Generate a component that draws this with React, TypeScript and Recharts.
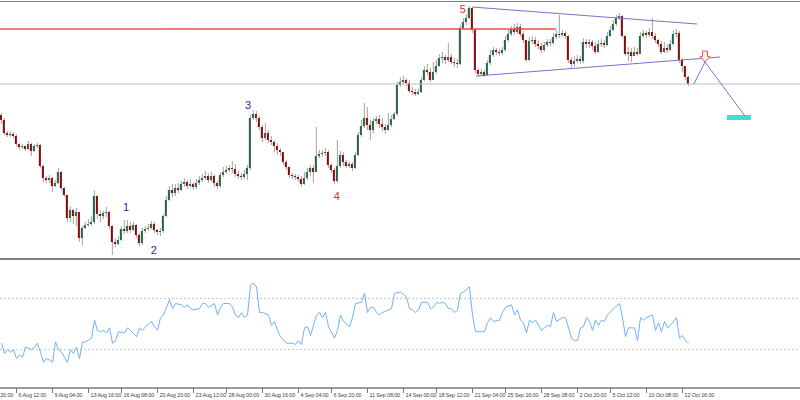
import React from "react";
import {
  ComposedChart,
  LineChart,
  Line,
  Bar,
  XAxis,
  YAxis,
  ReferenceLine,
  ReferenceArea,
  ReferenceDot,
} from "recharts";

// H4 candles, one per bar index; open of each bar = previous close
const firstOpen = 145;
const closes = [
  140, 127, 125, 126, 124, 116, 113, 114, 111, 116,
  109, 114, 115, 94, 82, 80, 82, 74, 77, 88,
  72, 65, 42, 50, 44, 48, 22, 32, 35, 36,
  38, 64, 46, 44, 47, 48, 34, 18, 16, 20,
  31, 29, 34, 30, 35, 25, 17, 29, 31, 32,
  36, 30, 28, 29, 44, 60, 70, 67, 72, 70,
  76, 78, 74, 76, 73, 77, 80, 82, 84, 80,
  84, 77, 74, 85, 88, 90, 92, 91, 86, 84,
  83, 86, 92, 142, 146, 142, 133, 122, 127, 120,
  118, 114, 110, 108, 98, 93, 85, 84, 83, 81,
  76, 82, 88, 92, 88, 104, 106, 107, 108, 95,
  90, 79, 94, 105, 98, 94, 96, 92, 105, 125,
  134, 142, 135, 130, 139, 141, 136, 133, 130, 135,
  141, 146, 175, 178, 180, 177, 169, 168, 166, 168,
  180, 190, 188, 180, 188, 194, 202, 203, 200, 203,
  198, 197, 196, 232, 238, 242, 252, 230, 190, 186,
  188, 185, 197, 205, 210, 208, 207, 210, 220, 226,
  231, 228, 233, 226, 220, 200, 219, 220, 216, 214,
  210, 215, 218, 217, 223, 226, 225, 227, 224, 200,
  196, 199, 201, 199, 218, 216, 218, 214, 208, 216,
  217, 215, 224, 230, 236, 242, 244, 224, 206, 208,
  204, 208, 206, 224, 227, 225, 228, 224, 220, 216,
  208, 212, 210, 216, 226, 227, 200, 194, 183, 176,
];
const highs = [
  147, 142, 129, 129, 128, 126, 117, 116, 114, 119,
  117, 116, 117, 116, 95, 84, 85, 83, 80, 92,
  89, 73, 65, 54, 51, 52, 48, 34, 38, 41,
  44, 70, 65, 50, 49, 53, 49, 35, 22, 24,
  34, 40, 40, 38, 38, 36, 27, 32, 34, 36,
  39, 38, 31, 32, 46, 64, 74, 76, 76, 77,
  79, 82, 80, 81, 78, 81, 84, 86, 89, 87,
  88, 86, 79, 88, 93, 94, 95, 99, 96, 89,
  87, 90, 95, 145, 150, 149, 144, 135, 137, 130,
  124, 120, 117, 112, 102, 100, 94, 87, 86, 85,
  84, 88, 92, 95, 95, 133, 110, 110, 112, 110,
  97, 92, 120, 109, 108, 100, 99, 98, 108, 128,
  140, 157, 153, 140, 142, 144, 145, 142, 136, 147,
  145, 148, 178, 183, 184, 182, 180, 173, 171, 171,
  183, 194, 196, 192, 198, 200, 206, 208, 205, 217,
  206, 202, 201, 235, 242, 246, 254, 252, 232, 192,
  191, 190, 200, 210, 213, 212, 211, 213, 224, 230,
  234, 236, 237, 236, 229, 220, 223, 224, 223, 220,
  217, 218, 221, 221, 227, 230, 245, 230, 229, 225,
  203, 204, 205, 204, 222, 221, 221, 220, 218, 220,
  221, 220, 228, 234, 240, 245, 247, 245, 225, 213,
  212, 213, 212, 228, 230, 229, 232, 242, 227, 221,
  219, 218, 216, 220, 230, 231, 229, 202, 187, 184,
];
const lows = [
  136, 125, 123, 123, 122, 114, 110, 111, 109, 110,
  104, 108, 112, 92, 78, 77, 77, 68, 73, 76,
  70, 63, 38, 38, 36, 34, 18, 15, 31, 33,
  34, 36, 41, 38, 41, 43, 31, 5, 13, 15,
  19, 26, 27, 27, 29, 22, 14, 15, 27, 29,
  31, 27, 25, 24, 27, 43, 59, 63, 64, 67,
  69, 73, 71, 72, 70, 71, 75, 78, 80, 77,
  78, 73, 71, 72, 83, 86, 88, 87, 83, 81,
  80, 81, 80, 90, 140, 138, 130, 118, 120, 117,
  115, 108, 105, 104, 95, 90, 82, 81, 80, 78,
  73, 75, 80, 84, 77, 88, 102, 103, 104, 92,
  87, 76, 77, 92, 94, 92, 92, 89, 91, 104,
  123, 132, 130, 120, 127, 136, 132, 129, 126, 129,
  133, 140, 144, 173, 175, 174, 167, 165, 164, 165,
  167, 179, 185, 178, 180, 186, 193, 197, 196, 198,
  196, 193, 192, 195, 230, 235, 241, 227, 187, 183,
  184, 183, 184, 195, 203, 205, 204, 205, 208, 218,
  224, 225, 226, 223, 217, 198, 199, 216, 213, 211,
  207, 208, 213, 214, 215, 221, 222, 223, 221, 197,
  192, 193, 197, 196, 197, 212, 212, 210, 206, 207,
  213, 212, 214, 223, 229, 234, 240, 222, 204, 199,
  198, 204, 204, 207, 222, 222, 223, 221, 217, 213,
  206, 207, 207, 209, 215, 222, 197, 188, 180, 174,
];

// oscillator (0..100) sampled at bar indices: [bar, value]
const rsiSeries: [number, number][] = [
  [0, 35], [1, 27], [2, 30], [3, 28], [4, 30], [5, 23], [6, 26], [7, 24], [8, 32], [10, 30],
  [11, 32], [12, 35], [13, 28], [14, 20], [15, 23], [16, 22], [17, 20], [18, 36], [19, 30], [20, 28],
  [21, 24], [22, 20], [23, 30], [24, 27], [25, 32], [26, 23], [27, 36], [28, 36], [30, 39], [31, 53],
  [32, 45], [33, 44], [34, 45], [35, 43], [36, 47], [37, 35], [38, 37], [39, 44], [41, 43], [42, 47],
  [43, 45], [45, 40], [46, 47], [47, 45], [48, 48], [50, 52], [51, 48], [52, 45], [53, 55], [54, 57],
  [55, 63], [56, 69], [57, 62], [58, 66], [60, 65], [61, 63], [62, 65], [63, 62], [64, 61], [66, 62],
  [67, 66], [68, 66], [69, 63], [71, 66], [72, 57], [73, 63], [74, 66], [76, 66], [77, 63], [78, 57],
  [79, 55], [80, 59], [81, 55], [82, 57], [83, 80], [84, 82], [85, 79], [86, 59], [87, 59], [89, 57],
  [90, 49], [91, 52], [92, 45], [93, 40], [95, 35], [97, 35], [98, 34], [99, 37], [100, 34], [101, 47],
  [102, 48], [103, 41], [105, 57], [106, 59], [107, 55], [108, 59], [109, 48], [111, 39], [112, 45], [113, 57],
  [114, 52], [116, 48], [117, 55], [118, 66], [120, 67], [121, 74], [122, 59], [123, 63], [124, 63], [125, 59],
  [126, 57], [127, 59], [129, 61], [130, 62], [131, 74], [133, 75], [135, 71], [136, 62], [137, 61], [138, 59],
  [139, 61], [140, 67], [142, 67], [143, 62], [144, 63], [145, 67], [146, 66], [147, 67], [148, 66], [149, 62],
  [150, 62], [151, 59], [152, 61], [153, 74], [154, 75], [155, 77], [156, 79], [157, 57], [158, 44], [160, 44],
  [161, 44], [162, 51], [163, 55], [164, 52], [166, 53], [167, 59], [168, 63], [170, 65], [171, 57], [172, 61],
  [173, 53], [174, 51], [175, 43], [176, 53], [177, 51], [178, 53], [180, 45], [182, 49], [183, 48], [184, 59],
  [185, 52], [187, 55], [188, 55], [190, 39], [191, 37], [192, 37], [193, 47], [194, 48], [195, 55], [196, 52],
  [197, 45], [198, 53], [199, 49], [200, 53], [201, 52], [202, 57], [204, 62], [206, 66], [207, 55], [208, 40],
  [209, 47], [211, 47], [212, 37], [213, 55], [214, 53], [215, 55], [217, 57], [218, 45], [219, 51], [220, 44],
  [221, 52], [222, 47], [223, 49], [225, 55], [226, 39], [227, 41], [228, 37], [229, 35],
];

const tickBars = [-6, 5, 17, 29, 40, 52, 64, 75, 87, 99, 110, 122, 134, 145, 157, 168, 180, 192, 203, 215, 227];
const tickLabels = [
  "2 Aug 20:00", "6 Aug 12:00", "9 Aug 04:00", "13 Aug 16:00", "16 Aug 08:00", "20 Aug 20:00",
  "23 Aug 12:00", "28 Aug 00:00", "30 Aug 16:00", "4 Sep 04:00", "6 Sep 20:00", "11 Sep 08:00",
  "14 Sep 00:00", "18 Sep 12:00", "21 Sep 04:00", "25 Sep 16:00", "28 Sep 08:00", "2 Oct 20:00",
  "5 Oct 12:00", "10 Oct 08:00", "12 Oct 16:00",
];

// wave count labels (bar, price)
const waveNames = ["1", "2", "3", "4", "5"];
const waveBars = [41.5, 50.8, 82.2, 111.8, 153.8];
const wavePrices = [53, 10, 155, 64, 251];

// drawn objects, anchored in (bar, price)
const resistanceLevel = 231;
const resistanceBars = [-13.8, 54.8, 184.8];
const supportLevel = 176;
const triangleTop = [[156.8, 253], [231.8, 236]];
const triangleBottom = [[158.2, 184], [239.5, 203]];
const projection = [[230.8, 176], [234.5, 198], [247.8, 144]];
const targetBars = [241.8, 249.8];
const targetPrices = [140, 145];

const X_DOMAIN: [number, number] = [-41.5 / 3, 798.5 / 3];
const BULL = "#2b6548";
const BEAR = "#8c0a0a";
const WICK = "#a2a2a2";
const BLUE_LINE = "#7474cc";

const candles = closes.map((close, i) => ({
  bar: i,
  open: i === 0 ? firstOpen : closes[i - 1],
  high: highs[i],
  low: lows[i],
  close,
}));

const rsiRows = rsiSeries.map(([bar, rsi]) => ({ bar, rsi }));

function Candle(props: any) {
  const { x, y, width, height, payload } = props;
  const { open, close, high, low } = payload;
  const cx = x + width / 2;
  const span = high - low;
  const at = (v: number) => (span === 0 ? y : y + ((high - v) / span) * height);
  const yO = at(open);
  const yC = at(close);
  const top = Math.min(yO, yC, y);
  const bottom = Math.max(yO, yC, y + height);
  const bodyTop = Math.min(yO, yC);
  const bodyH = Math.max(1, Math.abs(yC - yO));
  return (
    <g>
      <line x1={cx} x2={cx} y1={top} y2={bottom} stroke={WICK} strokeWidth={1} />
      <rect x={cx - 1.5} y={bodyTop} width={2} height={bodyH} fill={close >= open ? BULL : BEAR} />
    </g>
  );
}

function TimeTick(props: any) {
  const { x, y, payload } = props;
  const k = tickBars.indexOf(payload.value);
  return (
    <text
      x={x + 2}
      y={y + 3.5}
      fontSize={5.5}
      letterSpacing={-0.15}
      fontFamily="Liberation Sans, Arial, sans-serif"
      fill="#444"
      textAnchor="start"
    >
      {k >= 0 ? tickLabels[k] : ""}
    </text>
  );
}

function waveLabel(text: string, color: string) {
  return (p: any) => (
    <text
      x={p.cx}
      y={p.cy}
      fontSize={11}
      fontFamily="Liberation Sans, Arial, sans-serif"
      fill={color}
      textAnchor="middle"
      dominantBaseline="central"
    >
      {text}
    </text>
  );
}

function DownArrow(p: any) {
  const { cx, cy } = p;
  const d = `M${cx - 2.5},${cy - 11} L${cx + 2.5},${cy - 11} L${cx + 2.5},${cy - 5.5} L${cx + 5},${cy - 5.5} L${cx},${cy} L${cx - 5},${cy - 5.5} L${cx - 2.5},${cy - 5.5} Z`;
  return <path d={d} fill="#fff0f0" stroke="#f05a5a" strokeWidth={1} />;
}

export default function App() {
  const seg = (a: number[], b: number[]) => [
    { x: a[0], y: a[1] },
    { x: b[0], y: b[1] },
  ];
  return (
    <div style={{ position: "relative", width: 800, height: 400, overflow: "hidden", background: "#fff" }}>
      <style>{"body{margin:0}"}</style>
      <div style={{ position: "absolute", left: 0, top: 1, width: 800, height: 1, background: "#7d7d7d" }} />
      <div style={{ position: "absolute", left: -40, top: 0 }}>
        <ComposedChart width={840} height={258} data={candles} margin={{ top: 2, right: 0, bottom: 0, left: 0 }}>
          <XAxis type="number" dataKey="bar" domain={X_DOMAIN} allowDataOverflow hide />
          <YAxis type="number" domain={[2, 258]} allowDataOverflow hide />
          <ReferenceLine y={supportLevel} stroke="#b6c1cc" strokeWidth={1} ifOverflow="visible" />
          <ReferenceLine
            segment={[{ x: resistanceBars[0], y: resistanceLevel }, { x: resistanceBars[1], y: resistanceLevel }]}
            stroke="#dd0000"
            strokeWidth={1}
            ifOverflow="visible"
          />
          <ReferenceLine
            segment={[{ x: resistanceBars[1], y: resistanceLevel }, { x: resistanceBars[2], y: resistanceLevel }]}
            stroke="#f24848"
            strokeWidth={1.5}
            ifOverflow="visible"
          />
          <Bar
            dataKey={(d: any) => [d.low, d.high]}
            shape={(p: any) => <Candle {...p} />}
            barSize={3}
            isAnimationActive={false}
          />
          <ReferenceLine segment={seg(triangleTop[0], triangleTop[1])} stroke={BLUE_LINE} ifOverflow="visible" />
          <ReferenceLine segment={seg(triangleBottom[0], triangleBottom[1])} stroke={BLUE_LINE} ifOverflow="visible" />
          <ReferenceLine segment={seg(projection[0], projection[1])} stroke={BLUE_LINE} ifOverflow="visible" />
          <ReferenceLine segment={seg(projection[1], projection[2])} stroke={BLUE_LINE} ifOverflow="visible" />
          <ReferenceArea
            x1={targetBars[0]}
            x2={targetBars[1]}
            y1={targetPrices[0]}
            y2={targetPrices[1]}
            fill="#3fe0cf"
            fillOpacity={1}
            stroke="none"
            ifOverflow="visible"
          />
          <ReferenceDot x={projection[1][0]} y={projection[1][1]} r={0} shape={DownArrow} ifOverflow="visible" />
          {waveNames.map((n, i) => (
            <ReferenceDot
              key={n}
              x={waveBars[i]}
              y={wavePrices[i]}
              r={0}
              ifOverflow="visible"
              shape={waveLabel(n, i < 3 ? "#2727a8" : "#e62e2e")}
            />
          ))}
        </ComposedChart>
      </div>
      <div style={{ position: "absolute", left: 0, top: 258, width: 800, height: 2, background: "#7f7f7f" }} />
      <div style={{ position: "absolute", left: -40, top: 260 }}>
        <LineChart width={840} height={140} data={rsiRows} margin={{ top: 0, right: 0, bottom: 0, left: 0 }}>
          <XAxis
            type="number"
            dataKey="bar"
            domain={X_DOMAIN}
            allowDataOverflow
            ticks={tickBars}
            interval={0}
            height={12}
            tickSize={5}
            tickMargin={0}
            axisLine={{ stroke: "#7a7a7a", strokeWidth: 1.5 }}
            tickLine={{ stroke: "#777" }}
            tick={<TimeTick />}
          />
          <YAxis type="number" domain={[0, 100]} allowDataOverflow hide />
          <ReferenceLine y={70} stroke="#c8c8c8" strokeDasharray="2 2" />
          <ReferenceLine y={30} stroke="#c8c8c8" strokeDasharray="2 2" />
          <Line
            type="linear"
            dataKey="rsi"
            stroke="#6fb3f7"
            strokeWidth={1}
            dot={false}
            isAnimationActive={false}
          />
        </LineChart>
      </div>
    </div>
  );
}
